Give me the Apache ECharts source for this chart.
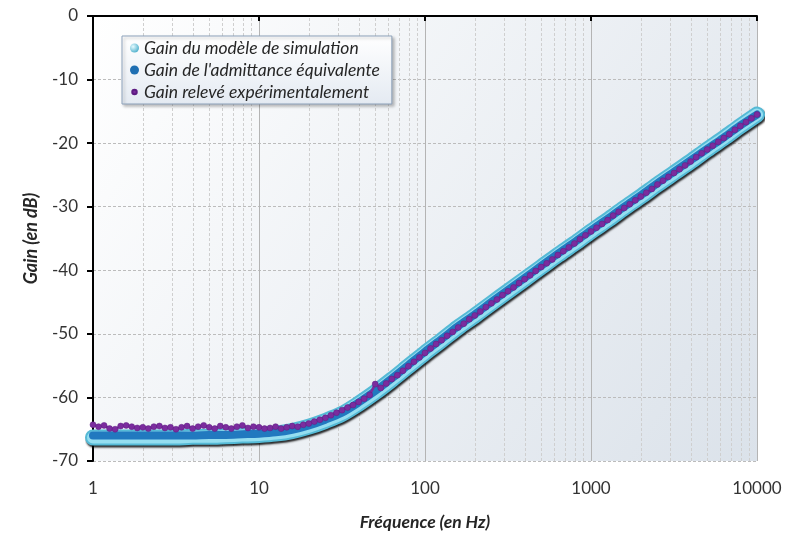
<!DOCTYPE html>
<html>
<head>
<meta charset="utf-8">
<script src="https://cdn.jsdelivr.net/npm/echarts@6/dist/echarts.min.js"></script>
<style>
html, body { margin: 0; padding: 0; background: #fff; }
#main { width: 785px; height: 544px; }
</style>
</head>
<body>
<div id="main"></div>
<script>
// fréquences (Hz) des courbes modèle, 10 points par décade
var fModel = [1, 1.26, 1.58, 2, 2.51, 3.16, 3.98, 5.01, 6.31, 7.94,
    10, 12.6, 15.8, 20, 25.1, 31.6, 39.8, 50.1, 63.1, 79.4,
    100, 126, 158, 200, 251, 316, 398, 501, 631, 794,
    1000, 1259, 1585, 1995, 2512, 3162, 3981, 5012, 6310, 7943, 10000];
var gSimulation = [-66.3, -66.3, -66.3, -66.3, -66.3, -66.3, -66.2, -66.2, -66.1, -66.0,
    -65.9, -65.7, -65.3, -64.6, -63.7, -62.6, -61.0, -59.2, -57.2, -55.1,
    -53.0, -51.0, -49.0, -47.1, -45.2, -43.3, -41.4, -39.5, -37.6, -35.8,
    -33.9, -32.1, -30.2, -28.4, -26.5, -24.7, -22.9, -21.0, -19.2, -17.3, -15.5];
var gAdmittance = [-66.0, -66.0, -66.0, -66.0, -66.0, -66.0, -66.0, -65.9, -65.9, -65.8,
    -65.7, -65.5, -65.1, -64.4, -63.5, -62.4, -60.8, -59.0, -57.0, -54.9,
    -52.8, -50.8, -48.8, -46.9, -45.0, -43.1, -41.2, -39.3, -37.4, -35.6,
    -33.7, -31.9, -30.0, -28.2, -26.3, -24.5, -22.7, -20.9, -19.1, -17.2, -15.5];

// points relevés, 30 par décade
var fExp = [1, 1.08, 1.166, 1.259, 1.359, 1.468, 1.585, 1.711, 1.848, 1.995,
    2.154, 2.326, 2.512, 2.712, 2.929, 3.162, 3.415, 3.687, 3.981, 4.299,
    4.642, 5.012, 5.412, 5.843, 6.31, 6.813, 7.356, 7.943, 8.577, 9.261,
    10, 10.8, 11.66, 12.59, 13.59, 14.68, 15.85, 17.11, 18.48, 19.95,
    21.54, 23.26, 25.12, 27.12, 29.29, 31.62, 34.15, 36.87, 39.81, 42.99,
    46.42, 50.12, 54.12, 58.43, 63.1, 68.13, 73.56, 79.43, 85.77, 92.61,
    100, 108, 116.6, 125.9, 135.9, 146.8, 158.5, 171.1, 184.8, 199.5,
    215.4, 232.6, 251.2, 271.2, 292.9, 316.2, 341.5, 368.7, 398.1, 429.9,
    464.2, 501.2, 541.2, 584.3, 631, 681.3, 735.6, 794.3, 857.7, 926.1,
    1000, 1080, 1166, 1259, 1359, 1468, 1585, 1711, 1848, 1995,
    2154, 2326, 2512, 2712, 2929, 3162, 3415, 3687, 3981, 4299,
    4642, 5012, 5412, 5843, 6310, 6813, 7356, 7943, 8577, 9261, 10000];
var gExp = [-64.3, -64.6, -64.4, -64.9, -65.0, -64.5, -64.4, -64.6, -64.8, -64.7,
    -64.9, -64.6, -64.5, -64.8, -64.7, -65.0, -64.7, -64.5, -64.9, -64.6,
    -64.4, -64.7, -64.9, -64.5, -64.7, -64.9, -64.6, -64.4, -64.8, -64.6,
    -64.7, -64.9, -64.8, -64.6, -64.9, -64.7, -64.5, -64.6, -64.3, -64.1,
    -63.8, -63.5, -63.2, -62.8, -62.4, -62.0, -61.6, -61.2, -60.7, -60.2,
    -59.6, -57.9, -58.5, -57.8, -57.1, -56.5, -55.8, -55.1, -54.4, -53.7,
    -53.0, -52.3, -51.6, -51.0, -50.3, -49.7, -49.0, -48.4, -47.7, -47.1,
    -46.5, -45.8, -45.2, -44.6, -43.9, -43.3, -42.7, -42.0, -41.4, -40.8,
    -40.1, -39.5, -38.9, -38.3, -37.6, -37.0, -36.4, -35.8, -35.1, -34.5,
    -33.9, -33.3, -32.7, -32.1, -31.4, -30.8, -30.2, -29.6, -29.0, -28.4,
    -27.8, -27.2, -26.5, -25.9, -25.3, -24.7, -24.1, -23.5, -22.9, -22.2,
    -21.6, -21.0, -20.4, -19.8, -19.2, -18.6, -17.9, -17.3, -16.7, -16.1, -15.5];

var decades = [1, 10, 100, 1000];
var minorMult = [2, 3, 4, 5, 6, 7, 8, 9];

var nameSim = 'Gain du modèle de simulation';
var nameAdm = "Gain de l'admittance équivalente";
var nameExp = 'Gain relevé expérimentalement';

function pairs(xs, ys) {
    return xs.map(function (x, i) { return [x, ys[i]]; });
}

// lignes secondaires du papier log (2..9 de chaque décade)
var minorLines = [];
decades.forEach(function (d) {
    minorMult.forEach(function (m) { minorLines.push({ xAxis: d * m }); });
});

var font = 'Lato, "Open Sans", sans-serif';
var myChart = echarts.init(document.getElementById('main'));

myChart.setOption({
    animation: false,
    backgroundColor: '#ffffff',
    grid: {
        left: 93, right: 28, top: 16, bottom: 83,
        show: true,
        borderWidth: 0,
        backgroundColor: new echarts.graphic.LinearGradient(0, 0, 1, 1, [
            { offset: 0, color: '#ffffff' },
            { offset: 1, color: '#dbe2ea' }
        ])
    },
    legend: {
        data: [
            { name: nameSim, icon: 'circle', itemStyle: { color: new echarts.graphic.RadialGradient(0.35, 0.35, 0.7, [
                { offset: 0, color: '#e6fbff' }, { offset: 1, color: '#4fb0cc' }]) } },
            { name: nameAdm, icon: 'circle', itemStyle: { color: '#1f6fb2' } },
            { name: nameExp, icon: 'path://M0,0M10,10M2.5,5A2.5,2.5,0,1,0,7.5,5A2.5,2.5,0,1,0,2.5,5Z', itemStyle: { color: '#7b2c9e' } }
        ],
        orient: 'vertical',
        left: 122, top: 36,
        itemWidth: 9, itemHeight: 9, itemGap: 4,
        padding: [3, 12, 3, 7],
        borderColor: '#8da2bb', borderWidth: 1, borderRadius: 0,
        backgroundColor: new echarts.graphic.LinearGradient(0, 0, 0, 1, [
            { offset: 0, color: '#ffffff' },
            { offset: 1, color: '#e4eaf2' }
        ]),
        shadowColor: 'rgba(0,0,0,0.25)', shadowBlur: 3, shadowOffsetX: 2, shadowOffsetY: 2,
        selectedMode: false,
        textStyle: { fontFamily: font, fontStyle: 'italic', fontSize: 17.5, color: '#262626' }
    },
    xAxis: {
        type: 'log', logBase: 10, min: 1, max: 10000, splitNumber: 4,
        name: 'Fréquence (en Hz)', nameLocation: 'middle', nameGap: 52,
        nameTextStyle: { fontFamily: font, fontStyle: 'italic', fontWeight: 'bold', fontSize: 17.5, color: '#262626' },
        axisLine: { lineStyle: { color: '#000', width: 2 } },
        axisTick: { show: true, length: 5, lineStyle: { color: '#000', width: 2 } },
        axisLabel: { fontFamily: font, fontSize: 17, color: '#333', margin: 19, formatter: function (v) { return String(v); } },
        splitLine: { show: true, lineStyle: { color: '#b4b4b4', width: 1 } }
    },
    yAxis: {
        type: 'value', min: -70, max: 0, interval: 10,
        name: 'Gain (en dB)', nameLocation: 'middle', nameGap: 53,
        nameTextStyle: { fontFamily: font, fontStyle: 'italic', fontWeight: 'bold', fontSize: 18, color: '#262626' },
        axisLine: { show: true, lineStyle: { color: '#000', width: 2 } },
        axisTick: { show: true, length: 6, lineStyle: { color: '#000', width: 2 } },
        axisLabel: { fontFamily: font, fontSize: 17, color: '#333', margin: 15 },
        splitLine: { show: true, lineStyle: { color: '#bcbcbc', width: 1, type: [3, 2] } }
    },
    series: [
        {
            name: 'grille', type: 'line', data: [], z: 1, silent: true,
            markLine: {
                silent: true, symbol: 'none', animation: false, z: 1,
                label: { show: false },
                lineStyle: { color: '#cfcfcf', width: 1, type: [3, 2] },
                data: minorLines
            }
        },
        {
            name: nameSim, type: 'line', data: pairs(fModel, gSimulation), z: 10,
            showSymbol: false, smooth: 0.3,
            itemStyle: { color: '#7fd3e6' },
            lineStyle: { color: '#55bad6', width: 16, cap: 'round', join: 'round',
                shadowColor: 'rgba(0,0,0,0.85)', shadowBlur: 2, shadowOffsetX: 1, shadowOffsetY: 2 }
        },
        {
            name: 'simulation_coeur', type: 'line', data: pairs(fModel, gSimulation), z: 11,
            showSymbol: false, smooth: 0.3,
            lineStyle: { color: '#95def0', width: 12, cap: 'round', join: 'round' }
        },
        {
            name: nameAdm, type: 'line', data: pairs(fModel, gAdmittance), z: 12,
            showSymbol: false, smooth: 0.3,
            itemStyle: { color: '#1f6fb2' },
            lineStyle: { color: '#2179bf', width: 8, cap: 'round', join: 'round' }
        },
        {
            name: nameExp, type: 'line', data: pairs(fExp, gExp), z: 13,
            symbol: 'circle', symbolSize: 6, showSymbol: true, showAllSymbol: true,
            itemStyle: { color: '#7b2c9e', borderColor: '#5e1c82', borderWidth: 0.5 },
            lineStyle: { color: '#7b2c9e', width: 2.5 }
        }
    ]
});
</script>
</body>
</html>
